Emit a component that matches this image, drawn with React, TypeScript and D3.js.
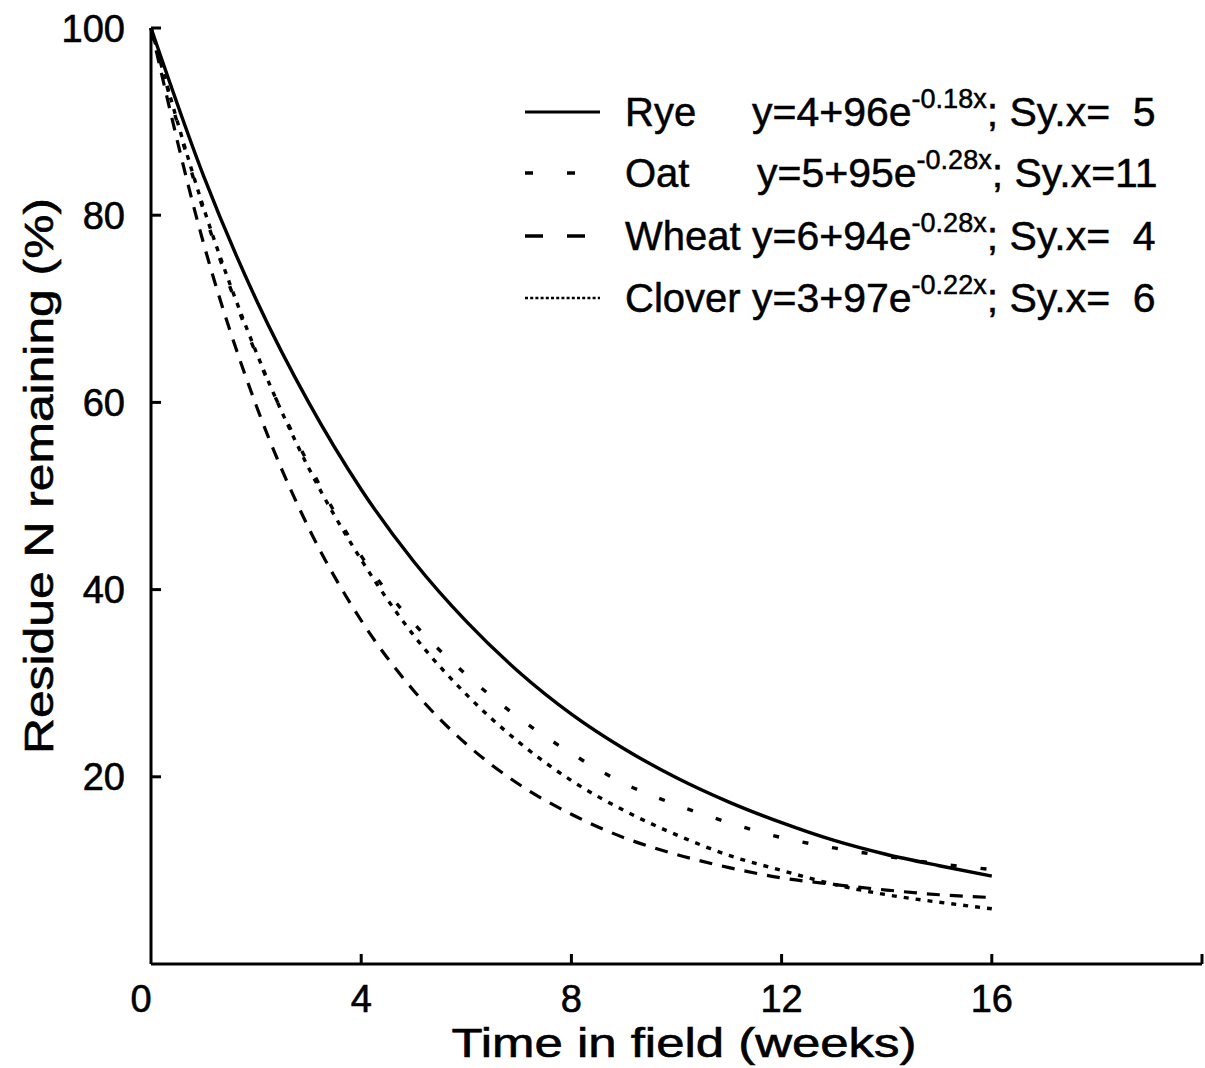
import React from "react";
import * as d3 from "d3";

const weeks = [0, 1, 2, 3, 4, 5, 6, 7, 8, 9, 10, 11, 12, 13, 14, 15, 16];
const rye = [100, 84.2, 71.0, 60.0, 50.7, 43.0, 36.6, 31.2, 26.7, 23.0, 19.9, 17.3, 15.1, 13.2, 11.7, 10.5, 9.4];
const oat = [100, 80.5, 65.2, 53.4, 43.6, 36.4, 30.9, 26.3, 22.5, 19.3, 17.0, 15.1, 13.5, 12.4, 11.5, 10.7, 10.1];
const wheat = [100, 77.0, 59.7, 46.6, 36.7, 29.2, 23.5, 19.2, 16.0, 13.5, 11.7, 10.3, 9.2, 8.5, 7.9, 7.4, 7.1];
const clover = [100, 80.8, 65.4, 53.0, 43.2, 35.1, 28.8, 23.7, 19.6, 16.4, 13.8, 11.6, 10.0, 8.5, 7.4, 6.6, 5.9];

const xTicks = [0, 4, 8, 12, 16];
const yTicks = [20, 40, 60, 80, 100];

const legendNames = ["Rye", "Oat", "Wheat", "Clover"];
const legendEq = ["y=4+96e", "y=5+95e", "y=6+94e", "y=3+97e"];
const legendExp = ["-0.18x", "-0.28x", "-0.28x", "-0.22x"];
const legendSy = ["; Sy.x=  5", "; Sy.x=11", "; Sy.x=  4", "; Sy.x=  6"];

const seriesList = [rye, oat, wheat, clover];
const dashes = ["none", "6,24", "13,10", "5,7"];
const legendDashes = ["none", "8,34", "18,24", "3,2.2"];
const legendWidths = [3.2, 3.5, 3.5, 2.5];
const curveWidths = [3.4, 3.4, 3.2, 3.4];

const FONT = "'Liberation Sans', Arial, Helvetica, sans-serif";

export default function App() {
  const W = 1205;
  const H = 1068;
  const x = d3.scaleLinear().domain([0, 20]).range([151, 1202]);
  const y = d3.scaleLinear().domain([0, 100]).range([964, 28]);

  const line = d3
    .line<number>()
    .x((_, i) => x(weeks[i]))
    .y((d) => y(d))
    .curve(d3.curveMonotoneX);

  const legendX0 = 525;
  const legendX1 = 600;
  const rowY = [112, 173, 236, 298];

  return (
    <svg
      width={W}
      height={H}
      viewBox={`0 0 ${W} ${H}`}
      style={{ position: "absolute", left: 0, top: 0, background: "#fff", display: "block" }}
    >
      <rect x={0} y={0} width={W} height={H} fill="#fff" />
      {/* axes */}
      <g stroke="#000" strokeWidth={3} fill="none">
        <line x1={x(0)} y1={y(0)} x2={x(0)} y2={y(100)} />
        <line x1={x(0)} y1={y(0)} x2={x(20)} y2={y(0)} />
        {yTicks.map((t) => (
          <line key={"yt" + t} x1={x(0)} x2={x(0) + 10} y1={y(t)} y2={y(t)} />
        ))}
        {xTicks.slice(1).map((t) => (
          <line key={"xt" + t} x1={x(t)} x2={x(t)} y1={y(0)} y2={y(0) - 10} />
        ))}
        <line x1={x(20)} x2={x(20)} y1={y(0)} y2={y(0) - 10} />
      </g>
      {/* tick labels */}
      <g fontFamily={FONT} fontSize={38} fill="#000" stroke="#000" strokeWidth={0.6}>
        {yTicks.map((t) => (
          <text key={"yl" + t} x={125} y={y(t)} dy="0.36em" textAnchor="end">
            {t}
          </text>
        ))}
        {xTicks.map((t) => (
          <text key={"xl" + t} x={x(t) + (t === 0 ? -10 : 0)} y={1012} textAnchor="middle">
            {t}
          </text>
        ))}
      </g>
      {/* axis titles */}
      <text
        x={684}
        y={1057}
        textAnchor="middle"
        fontFamily={FONT}
        fontSize={40}
        stroke="#000"
        strokeWidth={0.6}
        textLength={465}
        lengthAdjust="spacingAndGlyphs"
      >
        Time in field (weeks)
      </text>
      <text
        transform={`translate(53, 476) rotate(-90)`}
        textAnchor="middle"
        fontFamily={FONT}
        fontSize={41}
        stroke="#000"
        strokeWidth={0.6}
        textLength={556}
        lengthAdjust="spacingAndGlyphs"
      >
        Residue N remaining (%)
      </text>
      {/* curves */}
      <g fill="none" stroke="#000">
        {seriesList.map((s, i) => (
          <path key={"c" + i} d={line(s) || ""} strokeDasharray={dashes[i]} strokeWidth={curveWidths[i]} />
        ))}
      </g>
      {/* legend */}
      <g fontFamily={FONT} fontSize={40} fill="#000">
        {legendNames.map((n, i) => (
          <g key={"lg" + i}>
            <line
              x1={legendX0}
              x2={legendX1}
              y1={rowY[i]}
              y2={rowY[i]}
              stroke="#000"
              strokeWidth={legendWidths[i]}
              strokeDasharray={legendDashes[i]}
            />
            <text x={625} y={rowY[i] + 14} stroke="#000" strokeWidth={0.5}>
              {n}
            </text>
            <text
              x={i === 1 ? 757 : 752}
              y={rowY[i] + 14}
              fontSize={41}
              stroke="#000"
              strokeWidth={0.5}
              style={{ whiteSpace: "pre" }}
            >
              <tspan>{legendEq[i]}</tspan>
              <tspan fontSize={27} dy={-18}>
                {legendExp[i]}
              </tspan>
              <tspan dy={18}>{legendSy[i]}</tspan>
            </text>
          </g>
        ))}
      </g>
    </svg>
  );
}
